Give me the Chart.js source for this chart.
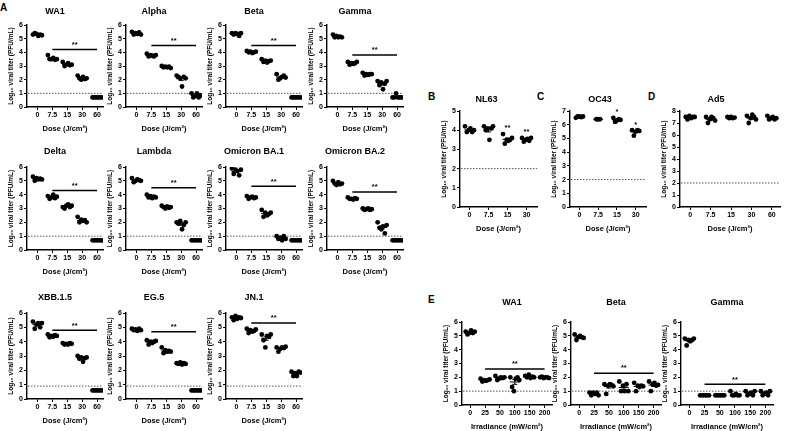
<!DOCTYPE html>
<html lang="en">
<head>
<meta charset="UTF-8">
<title>Viral titer after UV dose</title>
<script src="https://cdn.jsdelivr.net/npm/chart.js"></script>
<style>
  body { margin: 0; background: #fff; font-family: "Liberation Sans", Arial, sans-serif; }
  #fig { position: relative; width: 788px; height: 431px; overflow: hidden; background: #fff; }
  #fig canvas { position: absolute; }
  .letter { position: absolute; font-weight: bold; font-size: 10px; color: #000; line-height: 10px; }
</style>
</head>
<body>
<div id="fig">
  <div class="letter" style="left:0px;top:3px">A</div>
  <div class="letter" style="left:428px;top:92px">B</div>
  <div class="letter" style="left:537px;top:92px">C</div>
  <div class="letter" style="left:648px;top:92px">D</div>
  <div class="letter" style="left:428px;top:295px">E</div>
</div>
<script>
// tick labels
const doseLabels = ['0', '7.5', '15', '30', '60'];
const doseLabels4 = ['0', '7.5', '15', '30'];
const irrLabels = ['0', '25', '50', '100', '150', '200'];

// log10 titers, one inner array per dose group
const wa1 = [[5.3, 5.4, 5.35, 5.2, 5.3, 5.25], [3.8, 3.5, 3.5, 3.6, 3.45, 3.5], [3.3, 3.0, 3.1, 3.2, 3.05, 3.1], [2.3, 2.1, 2.0, 2.2, 2.05, 2.1], [0.7, 0.7, 0.7, 0.7, 0.7, 0.7]];
const alpha = [[5.5, 5.3, 5.4, 5.35, 5.45, 5.3], [3.9, 3.7, 3.8, 3.75, 3.7, 3.8], [3.0, 2.9, 2.95, 2.9, 2.95, 2.85], [2.3, 2.2, 2.1, 1.5, 2.2, 2.1], [1.0, 0.7, 0.8, 1.0, 0.7, 0.85]];
const beta = [[5.4, 5.3, 5.4, 5.35, 5.2, 5.4], [4.1, 4.0, 4.05, 3.95, 4.0, 4.05], [3.5, 3.3, 3.4, 3.25, 3.35, 3.4], [2.4, 2.0, 2.1, 2.2, 2.3, 2.15], [0.7, 0.7, 0.7, 0.7, 0.7, 0.7]];
const gamma = [[5.3, 5.1, 5.2, 5.1, 5.15, 5.1], [3.3, 3.1, 3.2, 3.15, 3.2, 3.3], [2.5, 2.3, 2.4, 2.35, 2.4, 2.4], [1.9, 1.6, 1.8, 1.3, 1.7, 1.9], [0.7, 0.7, 1.0, 0.7, 0.7, 0.7]];
const delta = [[5.3, 5.0, 5.2, 5.1, 5.15, 5.1], [3.9, 3.7, 3.8, 4.0, 3.75, 3.85], [3.1, 3.0, 3.2, 3.3, 3.1, 3.2], [2.4, 2.0, 2.2, 2.1, 2.15, 2.0], [0.7, 0.7, 0.7, 0.7, 0.7, 0.7]];
const lambda = [[5.2, 4.9, 5.0, 5.1, 5.05, 5.0], [4.0, 3.8, 3.9, 3.75, 3.85, 3.8], [3.2, 3.1, 3.0, 3.15, 3.05, 3.1], [2.0, 1.9, 2.1, 1.5, 1.8, 2.0], [0.7, 0.7, 0.7, 0.7, 0.7, 0.7]];
const ba1 = [[5.9, 5.5, 5.8, 5.7, 5.4, 5.8], [3.9, 3.7, 3.8, 3.85, 3.75, 3.8], [2.9, 2.4, 2.7, 2.5, 2.6, 2.7], [1.0, 0.8, 0.9, 0.7, 1.0, 0.8], [0.7, 0.7, 0.7, 0.7, 0.7, 0.7]];
const ba2 = [[5.0, 4.8, 4.7, 4.9, 4.75, 4.8], [3.8, 3.7, 3.7, 3.65, 3.75, 3.7], [3.0, 2.9, 2.95, 3.0, 2.9, 2.95], [2.0, 1.6, 1.5, 1.7, 1.2, 1.8], [0.7, 0.7, 0.7, 0.7, 0.7, 0.7]];
const xbb = [[5.4, 4.9, 5.2, 5.3, 5.0, 5.3], [4.5, 4.3, 4.4, 4.35, 4.45, 4.4], [3.9, 3.8, 3.85, 3.8, 3.9, 3.85], [3.0, 2.8, 2.9, 2.6, 2.85, 2.9], [0.6, 0.6, 0.6, 0.6, 0.6, 0.6]];
const eg5 = [[4.9, 4.8, 4.85, 4.75, 4.9, 4.8], [4.1, 3.8, 4.0, 3.9, 4.0, 4.05], [3.6, 3.2, 3.4, 3.3, 3.35, 3.3], [2.5, 2.45, 2.55, 2.4, 2.5, 2.45], [0.6, 0.6, 0.6, 0.6, 0.6, 0.6]];
const jn1 = [[5.7, 5.5, 5.8, 5.6, 5.7, 5.65], [4.9, 4.6, 4.8, 4.7, 4.75, 4.85], [4.5, 4.1, 3.6, 4.4, 4.35, 4.5], [3.6, 3.3, 3.5, 3.6, 3.55, 3.65], [1.9, 1.6, 1.8, 1.6, 1.9, 1.85]];
const nl63 = [[4.2, 3.9, 4.0, 4.1, 3.9, 4.0], [4.2, 4.0, 4.1, 3.5, 4.1, 4.2], [3.8, 3.3, 3.5, 3.45, 3.5, 3.6], [3.6, 3.4, 3.5, 3.55, 3.45, 3.6]];
const oc43 = [[6.5, 6.6, 6.6, 6.55, 6.6], [6.4, 6.4, 6.4], [6.5, 6.2, 6.3, 6.4, 6.35], [5.6, 5.2, 5.5, 5.6, 5.55]];
const ad5 = [[7.5, 7.3, 7.6, 7.4, 7.5, 7.5], [7.5, 7.0, 7.3, 7.5, 7.4, 7.2], [7.5, 7.4, 7.5, 7.4, 7.45], [7.6, 7.0, 7.4, 7.7, 7.5, 7.3], [7.6, 7.3, 7.4, 7.5, 7.3, 7.4]];
const eWa1 = [[5.3, 5.1, 5.2, 5.4, 5.2, 5.3], [1.9, 1.7, 1.8, 1.75, 1.8, 1.85], [2.1, 1.8, 1.9, 2.0, 1.95, 2.0], [2.0, 1.3, 1.0, 1.9, 2.0, 1.8], [2.1, 2.0, 2.2, 1.95, 2.05, 2.0], [2.0, 2.05, 1.95, 2.0, 2.0, 1.95]];
const eBeta = [[5.1, 4.7, 4.9, 5.0, 4.9, 4.85], [0.9, 0.7, 0.9, 0.8, 0.9, 0.7], [1.5, 0.8, 1.4, 1.5, 1.45, 1.35], [1.7, 1.0, 1.4, 1.0, 1.5, 1.0], [1.6, 1.0, 1.4, 1.3, 1.4, 1.35], [1.7, 1.0, 1.5, 1.6, 1.4, 1.45]];
const eGamma = [[4.8, 4.3, 4.7, 4.6, 4.7, 4.8], [0.7, 0.7, 0.7, 0.7, 0.7, 0.7], [0.7, 0.7, 0.7, 0.7, 0.7, 0.7], [1.0, 0.7, 0.7, 0.8, 0.7, 0.7], [1.0, 0.7, 0.8, 0.9, 0.7, 1.0], [1.0, 0.7, 0.8, 0.9, 0.7, 1.0]];

// significance marks per group (B and C panels)
const nl63Stars = ['', '', '**', '**'];
const oc43Stars = ['', '', '*', '*'];

const doseTitle = 'Dose (J/cm\u00B2)';
const irrTitle = 'Irradiance (mW/cm\u00B2)';
const yTitle = 'Log\u2081\u2080 viral titer (PFU/mL)';
const FONT = '"Liberation Sans", Arial, sans-serif';

// panel layout: x = pixel of y axis, top = pixel of y max, tg = title gap, tx = title shift
const panels = [
  { title: 'WA1', data: wa1, labels: doseLabels, ymax: 6, lod: 1, bar: 4.2, x: 27, top: 25, w: 76, h: 82, tg: 13, tx: -10 },
  { title: 'Alpha', data: alpha, labels: doseLabels, ymax: 6, lod: 1, bar: 4.5, x: 126, top: 25, w: 76, h: 82, tg: 13, tx: -10 },
  { title: 'Beta', data: beta, labels: doseLabels, ymax: 6, lod: 1, bar: 4.5, x: 226, top: 25, w: 76, h: 82, tg: 13, tx: -10 },
  { title: 'Gamma', data: gamma, labels: doseLabels, ymax: 6, lod: 1, bar: 3.8, x: 327, top: 25, w: 76, h: 82, tg: 13, tx: -10 },
  { title: 'Delta', data: delta, labels: doseLabels, ymax: 6, lod: 1, bar: 4.3, x: 27, top: 167, w: 76, h: 83, tg: 15, tx: -10 },
  { title: 'Lambda', data: lambda, labels: doseLabels, ymax: 6, lod: 1, bar: 4.5, x: 126, top: 167, w: 76, h: 83, tg: 15, tx: -10 },
  { title: 'Omicron BA.1', data: ba1, labels: doseLabels, ymax: 6, lod: 1, bar: 4.6, x: 226, top: 167, w: 76, h: 83, tg: 15, tx: -10 },
  { title: 'Omicron BA.2', data: ba2, labels: doseLabels, ymax: 6, lod: 1, bar: 4.2, x: 327, top: 167, w: 76, h: 83, tg: 15, tx: -10 },
  { title: 'XBB.1.5', data: xbb, labels: doseLabels, ymax: 6, lod: 0.9, bar: 4.8, x: 27, top: 313, w: 76, h: 86, tg: 15, tx: -10 },
  { title: 'EG.5', data: eg5, labels: doseLabels, ymax: 6, lod: 0.9, bar: 4.7, x: 126, top: 313, w: 76, h: 86, tg: 15, tx: -10 },
  { title: 'JN.1', data: jn1, labels: doseLabels, ymax: 6, lod: 0.9, bar: 5.3, x: 226, top: 313, w: 76, h: 86, tg: 15, tx: -10 },
  { title: 'NL63', data: nl63, labels: doseLabels4, ymax: 5, lod: 2, stars: nl63Stars, x: 460, top: 111, w: 77, h: 96, tg: 11, tx: -12, padL: 0.5, padR: 0.55 },
  { title: 'OC43', data: oc43, labels: doseLabels4, ymax: 7, lod: 2, stars: oc43Stars, x: 570, top: 111, w: 76, h: 96, tg: 11, tx: -8, padL: 0.5, padR: 0.55 },
  { title: 'Ad5', data: ad5, labels: doseLabels, ymax: 8, lod: 2, x: 680, top: 111, w: 100, h: 96, tg: 11, tx: -14, padL: 0.5, padR: 0.4 },
  { title: 'WA1', data: eWa1, labels: irrLabels, ymax: 6, lod: 1, bar: 2.6, x: 462, top: 322, w: 90, h: 83, tg: 19, tx: 5, xTitle: irrTitle, padL: 0.55, padR: 0.5 },
  { title: 'Beta', data: eBeta, labels: irrLabels, ymax: 6, lod: 1, bar: 2.3, x: 571, top: 322, w: 90, h: 83, tg: 19, tx: 0, xTitle: irrTitle, padL: 0.55, padR: 0.5 },
  { title: 'Gamma', data: eGamma, labels: irrLabels, ymax: 6, lod: 1, bar: 1.5, x: 681, top: 322, w: 92, h: 83, tg: 19, tx: 0, xTitle: irrTitle, padL: 0.55, padR: 0.5 }
];

const YW = 20, XH = 26, PT = 26, PR = 6;
const DOT_STEP = 1.8; // horizontal pixel step between points of one group

// dotted limit line, mean + SEM, significance bars, title
const overlay = {
  id: 'overlay',
  beforeDatasetsDraw(chart) {
    const p = chart.options.plugins.overlay.panel;
    const { ctx, chartArea: a, scales: { x, y } } = chart;
    ctx.save();
    ctx.strokeStyle = '#555';
    ctx.lineWidth = 1;
    ctx.setLineDash([1.5, 1.5]);
    const ly = y.getPixelForValue(p.lod);
    ctx.beginPath();
    ctx.moveTo(a.left + 1, ly);
    ctx.lineTo(a.right, ly);
    ctx.stroke();
    ctx.setLineDash([]);
    ctx.strokeStyle = '#000';
    p.data.forEach((g, gi) => {
      const n = g.length;
      const mean = g.reduce((s, v) => s + v, 0) / n;
      const sd = Math.sqrt(g.reduce((s, v) => s + (v - mean) * (v - mean), 0) / (n - 1));
      const sem = sd / Math.sqrt(n);
      const cx = x.getPixelForValue(gi);
      const half = 5;
      const my = y.getPixelForValue(mean);
      ctx.beginPath();
      ctx.moveTo(cx - half, my);
      ctx.lineTo(cx + half, my);
      const t = y.getPixelForValue(mean + sem), b = y.getPixelForValue(mean - sem);
      ctx.moveTo(cx, t); ctx.lineTo(cx, b);
      ctx.moveTo(cx - 2.5, t); ctx.lineTo(cx + 2.5, t);
      ctx.moveTo(cx - 2.5, b); ctx.lineTo(cx + 2.5, b);
      ctx.stroke();
    });
    ctx.restore();
  },
  afterDraw(chart) {
    const p = chart.options.plugins.overlay.panel;
    const { ctx, chartArea: a, scales: { x, y } } = chart;
    ctx.save();
    ctx.fillStyle = '#000';
    ctx.strokeStyle = '#000';
    ctx.textAlign = 'center';
    if (p.bar != null) {
      const by = y.getPixelForValue(p.bar);
      const x1 = x.getPixelForValue(1), x2 = x.getPixelForValue(p.labels.length - 1);
      ctx.lineWidth = 1.5;
      ctx.beginPath();
      ctx.moveTo(x1, by);
      ctx.lineTo(x2, by);
      ctx.stroke();
      ctx.font = 'bold 7.5px ' + FONT;
      ctx.textBaseline = 'bottom';
      ctx.fillText('**', (x1 + x2) / 2, by - 1);
    }
    if (p.stars) {
      ctx.font = 'bold 7.5px ' + FONT;
      ctx.textBaseline = 'bottom';
      p.stars.forEach((s, gi) => {
        if (!s) return;
        const top = Math.max(...p.data[gi]);
        ctx.fillText(s, x.getPixelForValue(gi), y.getPixelForValue(top) - 2);
      });
    }
    ctx.font = 'bold 9px ' + FONT;
    ctx.textBaseline = 'middle';
    ctx.fillText(p.title, (a.left + a.right) / 2 + p.tx, a.top - p.tg);
    ctx.restore();
  }
};

const fig = document.getElementById('fig');

panels.forEach(p => {
  const padL = p.padL != null ? p.padL : 0.7;
  const padR = p.padR != null ? p.padR : 0.4;
  const span = p.labels.length - 1 + padL + padR;
  const step = DOT_STEP * span / p.w;
  const cw = YW + p.w + PR, ch = PT + p.h + XH;
  const c = document.createElement('canvas');
  c.width = cw;
  c.height = ch;
  c.style.left = (p.x - YW) + 'px';
  c.style.top = (p.top - PT) + 'px';
  c.style.width = cw + 'px';
  c.style.height = ch + 'px';
  fig.appendChild(c);

  const pts = [];
  p.data.forEach((g, gi) => g.forEach((v, i) => pts.push({ x: gi + (i - (g.length - 1) / 2) * step, y: v })));

  const tickFont = { family: FONT, size: 7, weight: 'bold' };
  new Chart(c, {
    type: 'scatter',
    data: {
      datasets: [{
        data: pts,
        backgroundColor: '#000',
        borderColor: '#000',
        pointRadius: 2.4,
        pointHoverRadius: 2.4,
        borderWidth: 0
      }]
    },
    options: {
      responsive: false,
      animation: false,
      events: [],
      layout: { padding: { top: PT, right: PR, left: 0, bottom: 0 } },
      plugins: {
        legend: { display: false },
        tooltip: { enabled: false },
        overlay: { panel: p }
      },
      scales: {
        x: {
          type: 'linear',
          min: -padL,
          max: p.labels.length - 1 + padR,
          afterBuildTicks: s => { s.ticks = p.labels.map((_, i) => ({ value: i })); },
          afterFit: s => { s.height = XH; },
          ticks: { callback: v => p.labels[v], font: tickFont, color: '#000', padding: 1, maxRotation: 0, minRotation: 0, autoSkip: false },
          grid: { drawOnChartArea: false, tickLength: 3, color: '#000', lineWidth: 1 },
          border: { color: '#000', width: 1.4 },
          title: { display: true, text: p.xTitle || doseTitle, font: { family: FONT, size: 7.5, weight: 'bold' }, color: '#000', padding: { top: 3, bottom: 0 } }
        },
        y: {
          min: 0,
          max: p.ymax,
          afterBuildTicks: s => {
            const t = [];
            for (let v = 0; v <= p.ymax; v++) t.push({ value: v });
            s.ticks = t;
          },
          afterFit: s => { s.width = YW; },
          ticks: { font: tickFont, color: '#000', padding: 1 },
          grid: { drawOnChartArea: false, tickLength: 3, color: '#000', lineWidth: 1 },
          border: { color: '#000', width: 1.4 },
          title: { display: true, text: yTitle, font: { family: FONT, size: 6.5, weight: 'bold' }, color: '#000', padding: { top: 0, bottom: 1 } }
        }
      }
    },
    plugins: [overlay]
  });
});
</script>
</body>
</html>
